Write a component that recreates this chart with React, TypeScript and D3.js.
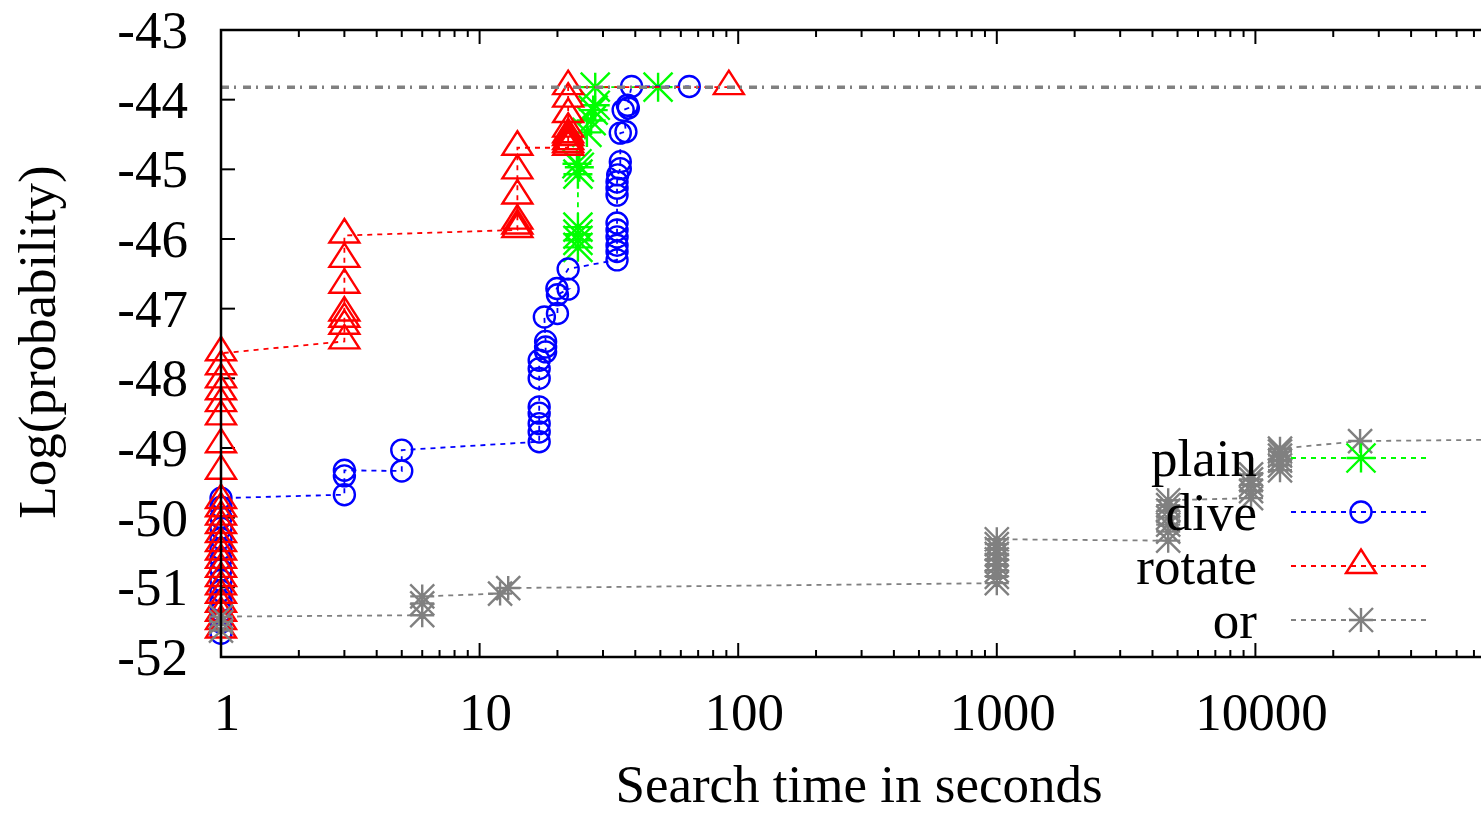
import React from "react";
import * as d3 from "d3";

// ---- data ----
const plainT = [24, 24, 24, 24, 24, 24.3, 23.8, 26, 27, 27.5, 28, 28, 49];
const plainV = [-46.12, -46.02, -45.93, -45.83, -45.07, -44.97, -44.92, -44.47, -44.3, -44.15, -44.08, -43.82, -43.82];

const diveT = [1, 1, 1, 1, 1, 1, 1, 1, 1, 1, 1, 1, 1, 1, 3, 3, 3, 5, 5,
  17, 17, 17, 17, 17, 17, 17, 17, 18, 18, 18, 17.8, 20, 20, 22, 19.9, 22,
  34, 34, 34, 34, 34, 34, 34, 34, 34, 34.2, 35, 35, 35, 36.8, 35.9, 37.6, 37.3, 38.7, 64.7];
const diveV = [-51.66, -51.5, -51.35, -51.2, -51.05, -50.9, -50.75, -50.6, -50.45, -50.3, -50.15, -50.0, -49.85, -49.72,
  -49.67, -49.4, -49.32, -49.33, -49.03,
  -48.91, -48.77, -48.65, -48.5, -48.41, -48.0, -47.86, -47.74, -47.62, -47.55, -47.47, -47.12, -47.07, -46.8, -46.72, -46.71, -46.43,
  -46.3, -46.18, -46.09, -45.97, -45.87, -45.77, -45.37, -45.27, -45.18, -45.08, -44.99, -44.89, -44.48, -44.46, -44.15, -44.12, -44.08, -43.81, -43.81];

const rotateT = [1, 1, 1, 1, 1, 1, 1, 1, 1, 1, 1, 1, 1, 1, 1, 1, 1, 1, 1, 1, 1, 1, 1, 1,
  3, 3, 3, 3, 3, 3, 3,
  14, 14, 14, 14, 14, 14,
  22, 22, 22, 22, 22, 22, 22, 22, 22, 92];
const rotateV = [-51.62, -51.5, -51.38, -51.25, -51.12, -51.0, -50.88, -50.75, -50.62, -50.5, -50.38, -50.25, -50.12, -50.0, -49.88, -49.76,
  -49.34, -48.96, -48.56, -48.37, -48.2, -48.03, -47.84, -47.64,
  -47.47, -47.26, -47.16, -47.07, -46.67, -46.3, -45.95,
  -45.87, -45.82, -45.75, -45.39, -45.03, -44.69,
  -44.69, -44.65, -44.61, -44.55, -44.51, -44.43, -44.22, -44.0, -43.82, -43.82];

const orT = [1, 1, 1, 6, 6, 6, 12, 12.9,
  1000, 1000, 1000, 1000, 1000, 1000, 1000, 1000, 1000,
  4600, 4600, 4600, 4600, 4600, 4600, 4600,
  9620, 9620, 9620, 9620, 9620,
  12450, 12450, 12450, 12450, 12450, 12450,
  25400, 95000];
const orV = [-51.62, -51.5, -51.42, -51.4, -51.23, -51.13, -51.09, -51.01,
  -50.94, -50.85, -50.76, -50.68, -50.6, -50.52, -50.45, -50.38, -50.31,
  -50.33, -50.2, -50.1, -50.0, -49.9, -49.82, -49.75,
  -49.72, -49.62, -49.53, -49.45, -49.38,
  -49.32, -49.25, -49.18, -49.11, -49.05, -49.01,
  -48.9, -48.88];

const optimumV = -43.82;

const seriesNames = ["plain", "dive", "rotate", "or"];
const xTickVals = [1, 10, 100, 1000, 10000];
const yTickVals = [-43, -44, -45, -46, -47, -48, -49, -50, -51, -52];

// ---- layout ----
const W = 1481, H = 814;
const left = 221, top = 30, bottom = 657;
const decade = 258.6;
const x = d3.scaleLog().domain([1, 100000]).range([left, left + 5 * decade]);
const y = d3.scaleLinear().domain([-52, -43]).range([bottom, top]);
const right = left + 5 * decade;

const FONT = "'Liberation Serif', 'DejaVu Serif', serif";
const FS = 53;

type Kind = "star" | "circle" | "tri";
const styles: { color: string; kind: Kind; size: number }[] = [
  { color: "#00ff00", kind: "star", size: 14.5 },
  { color: "#0000ff", kind: "circle", size: 10.5 },
  { color: "#ff0000", kind: "tri", size: 15 },
  { color: "#808080", kind: "star", size: 12 },
];

function markerPath(kind: Kind, s: number, cx: number, cy: number): string {
  if (kind === "star") {
    return `M${cx - s},${cy}L${cx + s},${cy}M${cx},${cy - s}L${cx},${cy + s}` +
      `M${cx - s},${cy - s}L${cx + s},${cy + s}M${cx - s},${cy + s}L${cx + s},${cy - s}`;
  }
  if (kind === "tri") {
    return `M${cx},${cy - 16.5}L${cx + s},${cy + 7}L${cx - s},${cy + 7}Z`;
  }
  const p = d3.path();
  p.arc(cx, cy, s, 0, Math.PI * 2);
  return p.toString();
}

const allData = [
  { t: plainT, v: plainV },
  { t: diveT, v: diveV },
  { t: rotateT, v: rotateV },
  { t: orT, v: orV },
];

export default function App() {
  const line = d3.line<[number, number]>().x((d) => x(d[0])).y((d) => y(d[1]));
  const minorTicks: number[] = [];
  for (let e = 0; e < 5; e++) {
    for (let m = 2; m <= 9; m++) minorTicks.push(m * Math.pow(10, e));
  }
  const majorTicks = [1, 10, 100, 1000, 10000, 100000];

  return (
    <svg width={W} height={H} style={{ position: "absolute", left: 0, top: 0, background: "#fff" }}
      fontFamily={FONT}>
      <rect x={0} y={0} width={W} height={H} fill="#fff" />
      {/* ticks */}
      <g stroke="#000" strokeWidth={2}>
        {majorTicks.map((t) => (
          <g key={"M" + t}>
            <line x1={x(t)} x2={x(t)} y1={bottom} y2={bottom - 14} />
            <line x1={x(t)} x2={x(t)} y1={top} y2={top + 14} />
          </g>
        ))}
        {minorTicks.map((t) => (
          <g key={"m" + t}>
            <line x1={x(t)} x2={x(t)} y1={bottom} y2={bottom - 7} />
            <line x1={x(t)} x2={x(t)} y1={top} y2={top + 7} />
          </g>
        ))}
        {yTickVals.map((v) => (
          <g key={"y" + v}>
            <line x1={left} x2={left + 14} y1={y(v)} y2={y(v)} />
            <line x1={right} x2={right - 14} y1={y(v)} y2={y(v)} />
          </g>
        ))}
      </g>
      {/* tick labels */}
      <g fontSize={FS} fill="#000">
        {yTickVals.map((v) => (
          <text key={"yl" + v} x={188} y={y(v) + 18} textAnchor="end">{String(v)}</text>
        ))}
        {xTickVals.map((t) => (
          <text key={"xl" + t} x={x(t) + 6} y={730} textAnchor="middle">{String(t)}</text>
        ))}
      </g>
      {/* axis titles */}
      <text x={859} y={802} fontSize={FS} textAnchor="middle">Search time in seconds</text>
      <text transform={`translate(55,342) rotate(-90)`} fontSize={FS} textAnchor="middle">Log(probability)</text>

      {/* series */}
      {allData.map((s, i) => {
        const st = styles[i];
        const pts: [number, number][] = s.t.map((t, j) => [t, s.v[j]]);
        return (
          <g key={seriesNames[i]}>
            <path d={line(pts) || ""} fill="none" stroke={st.color} strokeWidth={1.8} strokeDasharray="5,5" />
            <path d={pts.map((p) => markerPath(st.kind, st.size, x(p[0]), y(p[1]))).join("")}
              fill="none" stroke={st.color} strokeWidth={2.4} />
          </g>
        );
      })}

      {/* legend */}
      {seriesNames.map((name, i) => {
        const st = styles[i];
        const cy = 458 + i * 54;
        return (
          <g key={"lg" + name}>
            <text x={1257} y={cy + 18} fontSize={FS} textAnchor="end">{name}</text>
            <line x1={1291} x2={1428} y1={cy} y2={cy} stroke={st.color} strokeWidth={1.8} strokeDasharray="5,5" />
            <path d={markerPath(st.kind, st.size, 1361, cy)} fill="none" stroke={st.color} strokeWidth={2.4} />
          </g>
        );
      })}

      {/* optimum line */}
      <line x1={left} x2={right} y1={y(optimumV)} y2={y(optimumV)} stroke="#808080" strokeWidth={3.5}
        strokeDasharray="8,5,2,7" />

      {/* frame */}
      <rect x={left} y={top} width={right - left} height={bottom - top} fill="none" stroke="#000" strokeWidth={2.5} />
    </svg>
  );
}
